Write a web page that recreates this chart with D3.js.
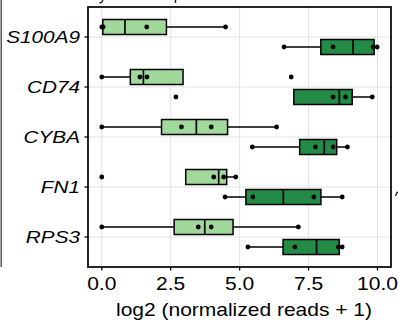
<!DOCTYPE html>
<html lang="en">
<head>
<meta charset="utf-8">
<title>log2 normalized reads by gene</title>
<script src="https://d3js.org/d3.v7.min.js"></script>
<style>
  body { margin: 0; padding: 0; background: #fff; }
  text { font-family: "Liberation Sans", Arial, sans-serif; fill: #000; }
  .ylab { font-style: italic; }
</style>
</head>
<body>
<div id="chart"></div>
<script>
// genes (top to bottom) and the two groups
var genes = ["S100A9", "CD74", "CYBA", "FN1", "RPS3"];
var groups = ["light", "dark"];
var groupColors = ["#a1d99b", "#238b45"];

// samples per gene (log2 normalized reads + 1)
var lightValues = [
  [0, 0.05, 1.63, 4.49],   // S100A9
  [0, 1.38, 1.64, 6.87],   // CD74
  [0, 2.89, 3.97, 6.34],   // CYBA
  [0, 4.06, 4.42, 4.86],   // FN1
  [0, 3.50, 3.97, 7.13]    // RPS3
];
var darkValues = [
  [6.61, 8.39, 9.84, 9.99],
  [2.69, 8.39, 8.84, 9.81],
  [5.46, 7.75, 8.39, 8.91],
  [4.47, 5.48, 7.69, 8.72],
  [5.30, 7.00, 8.58, 8.72]
];
var xTicks = [0, 2.5, 5, 7.5, 10];
var xTitle = "log2 (normalized reads + 1)";

var W = 398, H = 324;
var panel = {left: 88, right: 391, top: 7, bottom: 267};
var sx = 1.2; // text in the picture is stretched sideways

var svg = d3.select("#chart").append("svg")
    .attr("width", W).attr("height", H);

var x = d3.scaleLinear().domain([-0.4995, 10.4895]).range([panel.left, panel.right]);
var y = d3.scalePoint().domain(genes).range([panel.top, panel.bottom]).padding(0.6);
var dodge = 10, boxH = 15;

// grid
svg.append("g").selectAll("line.v").data(xTicks).enter().append("line")
    .attr("x1", function(d) { return x(d); }).attr("x2", function(d) { return x(d); })
    .attr("y1", panel.top).attr("y2", panel.bottom)
    .attr("stroke", "#e2e2e2").attr("stroke-width", 1);
svg.append("g").selectAll("line.h").data(genes).enter().append("line")
    .attr("x1", panel.left).attr("x2", panel.right)
    .attr("y1", function(d) { return y(d); }).attr("y2", function(d) { return y(d); })
    .attr("stroke", "#e2e2e2").attr("stroke-width", 1);

// box stats, same quantiles as R (type 7)
function stats(vals) {
  var s = vals.slice().sort(d3.ascending);
  var q1 = d3.quantile(s, 0.25), med = d3.quantile(s, 0.5), q3 = d3.quantile(s, 0.75);
  var iqr = q3 - q1;
  var inside = s.filter(function(v) { return v >= q1 - 1.5 * iqr && v <= q3 + 1.5 * iqr; });
  return {q1: q1, med: med, q3: q3, lo: d3.min(inside), hi: d3.max(inside), vals: s};
}

var rows = [];
genes.forEach(function(g, i) {
  rows.push({gene: g, k: 0, st: stats(lightValues[i])});
  rows.push({gene: g, k: 1, st: stats(darkValues[i])});
});
function cy(d) { return y(d.gene) + (d.k === 0 ? -dodge : dodge); }

var boxes = svg.append("g").selectAll("g").data(rows).enter().append("g");
// whiskers
boxes.append("line")
    .attr("x1", function(d) { return x(d.st.lo); }).attr("x2", function(d) { return x(d.st.q1); })
    .attr("y1", cy).attr("y2", cy)
    .attr("stroke", "#000").attr("stroke-width", 1.5);
boxes.append("line")
    .attr("x1", function(d) { return x(d.st.q3); }).attr("x2", function(d) { return x(d.st.hi); })
    .attr("y1", cy).attr("y2", cy)
    .attr("stroke", "#000").attr("stroke-width", 1.5);
// box
boxes.append("rect")
    .attr("x", function(d) { return x(d.st.q1); })
    .attr("width", function(d) { return x(d.st.q3) - x(d.st.q1); })
    .attr("y", function(d) { return cy(d) - boxH / 2; })
    .attr("height", boxH)
    .attr("fill", function(d) { return groupColors[d.k]; })
    .attr("stroke", "#000").attr("stroke-width", 1.5);
// median
boxes.append("line")
    .attr("x1", function(d) { return x(d.st.med); }).attr("x2", function(d) { return x(d.st.med); })
    .attr("y1", function(d) { return cy(d) - boxH / 2; })
    .attr("y2", function(d) { return cy(d) + boxH / 2; })
    .attr("stroke", "#000").attr("stroke-width", 1.7);
// points
boxes.selectAll("circle").data(function(d) {
    return d.st.vals.map(function(v) { return {v: v, yy: cy(d)}; });
  }).enter().append("circle")
    .attr("cx", function(d) { return x(d.v); })
    .attr("cy", function(d) { return d.yy; })
    .attr("r", 2.4).attr("fill", "#000");

// panel border
svg.append("rect")
    .attr("x", panel.left).attr("y", panel.top)
    .attr("width", panel.right - panel.left).attr("height", panel.bottom - panel.top)
    .attr("fill", "none").attr("stroke", "#000").attr("stroke-width", 1.7);

// y axis ticks + labels
genes.forEach(function(g) {
  svg.append("line").attr("x1", panel.left - 3.5).attr("x2", panel.left)
      .attr("y1", y(g)).attr("y2", y(g)).attr("stroke", "#000").attr("stroke-width", 1.3);
  svg.append("text").attr("class", "ylab")
      .attr("transform", "translate(" + 80 + "," + (y(g) + 6) + ") scale(1.22,1)")
      .attr("text-anchor", "end").attr("font-size", 17).text(g);
});

// x axis ticks + labels
xTicks.forEach(function(t) {
  svg.append("line").attr("x1", x(t)).attr("x2", x(t))
      .attr("y1", panel.bottom).attr("y2", panel.bottom + 3.5)
      .attr("stroke", "#000").attr("stroke-width", 1.3);
  svg.append("text")
      .attr("transform", "translate(" + x(t) + "," + 289.5 + ") scale(" + sx + ",1)")
      .attr("text-anchor", "middle").attr("font-size", 17.5).text(d3.format(".1f")(t));
});

svg.append("text")
    .attr("transform", "translate(" + 244 + "," + 316 + ") scale(" + sx + ",1)")
    .attr("text-anchor", "middle").attr("font-size", 17.5).text(xTitle);

// cut-off bits of the surrounding figure (edge of a neighbouring panel, stray glyph ends)
svg.append("line").attr("x1", 1.2).attr("x2", 1.2).attr("y1", 0).attr("y2", 267)
    .attr("stroke", "#555").attr("stroke-width", 1.5);
svg.append("path").attr("d", "M103,0 L101.5,2.5 L99.5,3")
    .attr("fill", "none").attr("stroke", "#222").attr("stroke-width", 1.4);
svg.append("path").attr("d", "M175.5,0 L175.5,3")
    .attr("fill", "none").attr("stroke", "#222").attr("stroke-width", 1.4);
svg.append("path").attr("d", "M395.5,196 L397,192.5 L398,192.5")
    .attr("fill", "none").attr("stroke", "#222").attr("stroke-width", 1.4);
</script>
</body>
</html>
